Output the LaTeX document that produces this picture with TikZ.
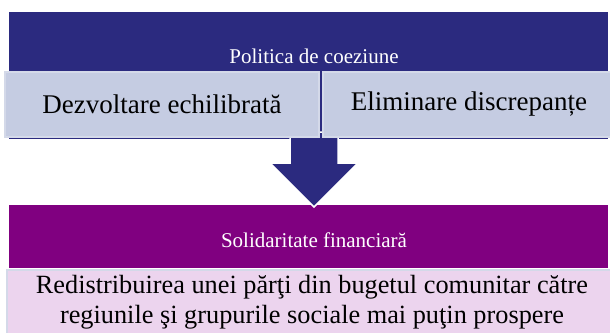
\documentclass[tikz,border=0pt]{standalone}
\usepackage{fontspec}
\setmainfont{Liberation Serif}
\definecolor{albastru}{RGB}{43,42,127}
\definecolor{mov}{RGB}{128,0,128}
\definecolor{gribleu}{RGB}{197,204,226}
\definecolor{margine}{RGB}{212,217,233}
\definecolor{roz}{RGB}{236,212,238}
\tikzstyle{every picture}=[x=1pt,y=-1pt]
\tikzstyle{titlu}=[text=white,inner sep=0pt,font=\fontsize{21}{24}\selectfont]
\tikzstyle{caseta}=[draw=margine,line width=2pt,inner sep=0pt,minimum height=65pt,font=\fontsize{27}{30}\selectfont]
\tikzstyle{sageata}=[fill=albastru,draw=white,line width=1.5pt,line join=miter]

\begin{document}
\begin{tikzpicture}
			\useasboundingbox (0,0) rectangle (610,332);
			\clip (0,0) rectangle (610,332);
			% Fundaluri
			\fill[albastru] (9,12) rectangle (608,139);
			\fill[mov] (9,205) rectangle (608,268);
			% Sageata
			\coordinate (sus) at (314,132);
			\coordinate (varf) at (314,207);
			\draw[sageata] (sus) ++(-24,0) -- ++(48,0) -- ++(0,31) -- ++(20,0) -- (varf) -- ++(-44,-44) -- ++(20,0) -- cycle;
			% Casete
			\node[caseta,fill=gribleu,minimum width=314pt] (dezvoltare) at (162,104) {Dezvoltare echilibrată};
			\node[caseta,fill=gribleu,minimum width=292pt] (eliminare) at (469,104) {Eliminare discrepanțe};
			\node[caseta,fill=roz,minimum width=610pt,align=center,font=\fontsize{26.3}{30}\selectfont] (redistribuire) at (312,302) {Redistribuirea unei părţi din bugetul comunitar către\\regiunile şi grupurile sociale mai puţin prospere};
			% Titluri
			\node[titlu] (politica) at (314,56) {Politica de coeziune};
			\node[titlu] (solidaritate) at (314,240) {Solidaritate financiară};
		\end{tikzpicture}
\end{document}
